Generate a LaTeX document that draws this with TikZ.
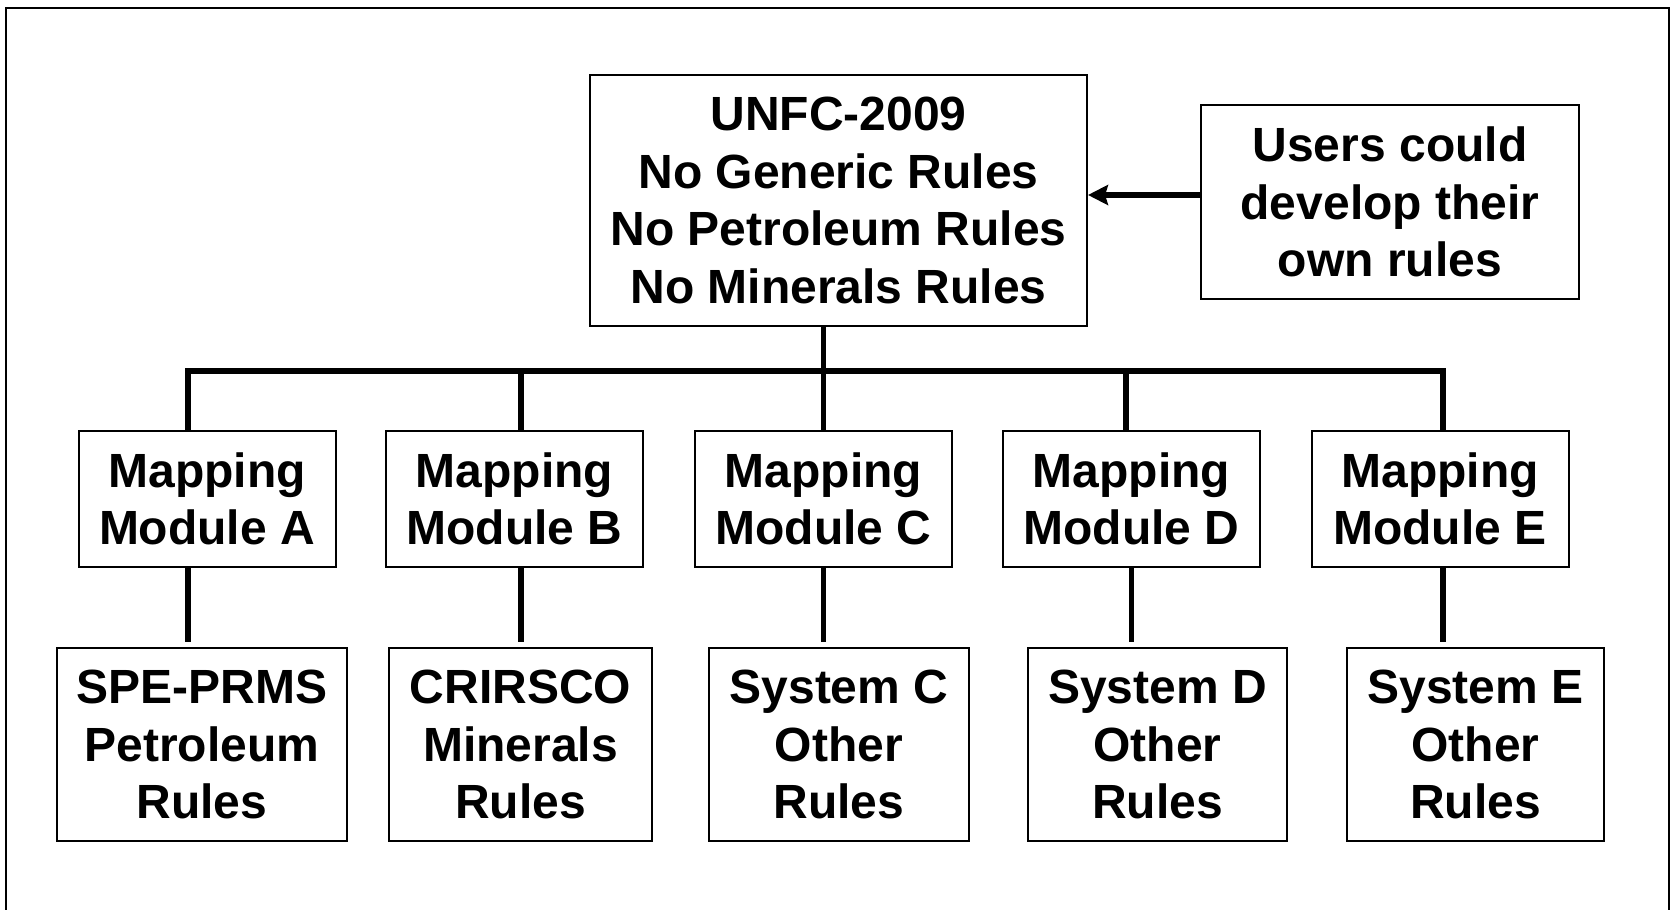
\documentclass[tikz,border=0pt]{standalone}
\usepackage{fontspec}
\setmainfont{Liberation Sans}
\usetikzlibrary{arrows.meta}

\begin{document}
\begin{tikzpicture}[x=0.5pt,y=-0.5pt]
    \tikzstyle{arrow} = [line width=3pt,-{Stealth[length=10pt,width=10pt,inset=1.5pt]}]
    \tikzstyle{link} = [line width=2.6pt]
    \tikzstyle{box} = [rectangle, draw=black, line width=1pt, inner sep=0pt, align=center, font=\fontsize{24pt}{28.8pt}\selectfont\bfseries]
    \tikzstyle{module} = [box, minimum width=128.5pt, minimum height=68pt]
    \tikzstyle{rules} = [box, minimum height=96.5pt]
    \useasboundingbox (0,0) rectangle (1672,910);
    \draw[line width=1.2pt] (6,910) -- (6,8) -- (1669,8) -- (1669,910);
    \node[box, minimum width=248.5pt, minimum height=125.5pt] (UNFC) at (838.5,200.5) {UNFC-2009\\No Generic Rules\\No Petroleum Rules\\No Minerals Rules};
    \node[box, minimum width=189pt, minimum height=97pt] (users) at (1390,202) {Users could\\develop their\\own rules};
    \foreach \n/\x in {A/207, B/514.5, C/823.5, D/1131.5, E/1440}
        \node[module] (mod\n) at (\x,499) {Mapping\\Module \n};
    \node[rules, minimum width=145pt] (spe) at (202,744.5) {SPE-PRMS\\Petroleum\\Rules};
    \node[rules, minimum width=131.5pt] (crirsco) at (520.5,744.5) {CRIRSCO\\Minerals\\Rules};
    \node[rules, minimum width=130pt] (sysC) at (839,744.5) {System C\\Other\\Rules};
    \node[rules, minimum width=129.5pt] (sysD) at (1157.5,744.5) {System D\\Other\\Rules};
    \node[rules, minimum width=128.5pt] (sysE) at (1475.5,744.5) {System E\\Other\\Rules};
    % bus
    \coordinate (dropA) at (188,371);
    \coordinate (dropB) at (521,371);
    \coordinate (dropD) at (1126,371);
    \coordinate (dropE) at (1443,371);
    \draw[link] (dropA |- modA.north) -- (dropA) -- (dropE) -- (dropE |- modE.north);
    \draw[link] (modC.north |- UNFC.south) -- (modC.north);
    \draw[link] (dropB) -- (dropB |- modB.north);
    \draw[link] (dropD) -- (dropD |- modD.north);
    % modules to rules
    \draw[link, shorten >=2.5pt] (dropA |- modA.south) -- (dropA |- spe.north);
    \draw[link, shorten >=2.5pt] (dropB |- modB.south) -- (dropB |- crirsco.north);
    \draw[link, shorten >=2.5pt] (modC.south) -- (modC.south |- sysC.north);
    \draw[link, shorten >=2.5pt] (modD.south) -- (modD.south |- sysD.north);
    \draw[link, shorten >=2.5pt] (dropE |- modE.south) -- (dropE |- sysE.north);
    \draw[arrow] ([yshift=3.5pt]users.west) -- ([yshift=3.5pt]users.west -| UNFC.east);
\end{tikzpicture}
\end{document}
